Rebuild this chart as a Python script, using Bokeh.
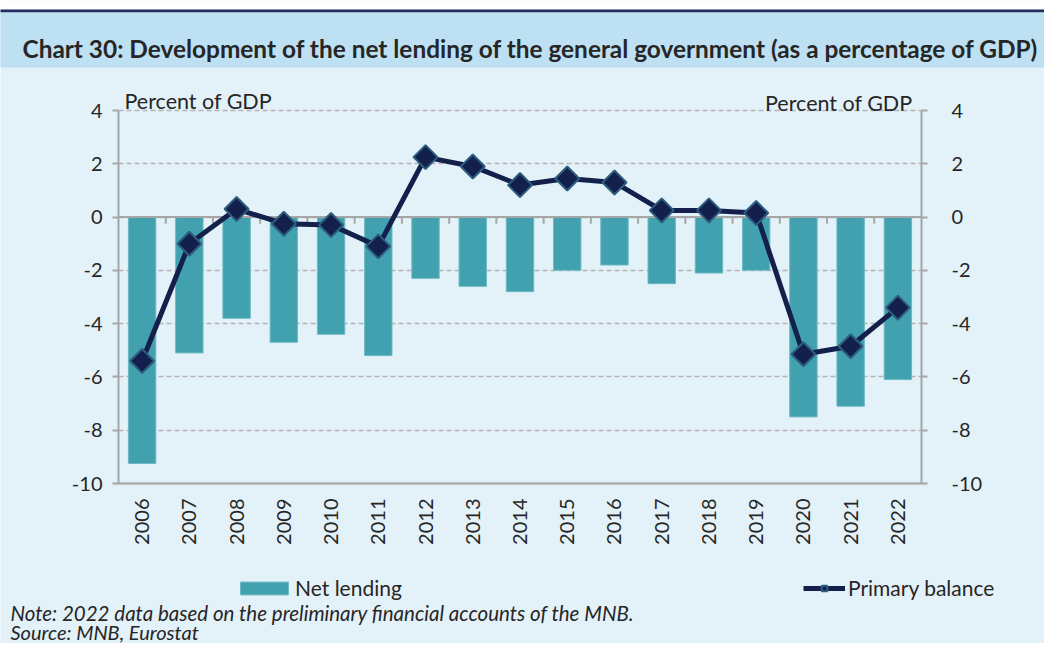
import math
from bokeh.plotting import figure
from bokeh.models import (Range1d, LinearAxis, FixedTicker, Label, BoxAnnotation,
                          Legend, LegendItem, ColumnDataSource, Grid)
from bokeh.embed import file_html
from bokeh.resources import INLINE

years = ["2006", "2007", "2008", "2009", "2010", "2011", "2012", "2013", "2014",
         "2015", "2016", "2017", "2018", "2019", "2020", "2021", "2022"]
net_lending = [-9.25, -5.1, -3.8, -4.7, -4.4, -5.2, -2.3, -2.6, -2.8,
               -2.0, -1.8, -2.5, -2.1, -2.0, -7.5, -7.1, -6.1]
primary_balance = [-5.4, -1.0, 0.3, -0.25, -0.3, -1.1, 2.25, 1.9, 1.2,
                   1.45, 1.3, 0.25, 0.25, 0.15, -5.15, -4.85, -3.4]
y_ticks = [-10, -8, -6, -4, -2, 0, 2, 4]
y_tick_labels = {t: str(t) for t in y_ticks}

TITLE = "Chart 30: Development of the net lending of the general government (as a percentage of GDP)"
NOTE = "Note: 2022 data based on the preliminary financial accounts of the MNB."
SOURCE = "Source: MNB, Eurostat"
UNIT = "Percent of GDP"

BODY = "#E3F1F8"
BAND = "#BDE0F3"
NAVY = "#13204B"
TEAL = "#41A1AE"
GRID = "#B4B4B4"
AXIS = "#A6A6A6"
TXT = "#262626"
FONT = "Lato"

W, H = 1044, 643
FL, FR = 118, 921          # px of the category area (left / right axis)
FT, FB = 110, 483          # px of y=4 and y=-10
n = len(years)
idx = list(range(n))
x_lo, x_hi = -0.5, n - 0.5
y_lo, y_hi = -10, 4

px_x = (FR - FL) / (x_hi - x_lo)
px_y = (FB - FT) / (y_hi - y_lo)
def X(fx):
    return (fx - FL) / px_x + x_lo
def Y(fy):
    return y_hi + (FT - fy) / px_y

p = figure(width=W, height=H, output_backend="svg", toolbar_location=None,
           x_range=Range1d(X(0), X(W)), y_range=Range1d(Y(H), Y(0)),
           min_border=0, min_border_left=0, min_border_right=0,
           min_border_top=0, min_border_bottom=0,
           background_fill_color=BODY, border_fill_color=BODY,
           outline_line_color=None)

# header: white strip, navy rule, light-blue title band
p.add_layout(BoxAnnotation(left=X(-5), right=X(W + 5), top=Y(-5), bottom=Y(9),
                           fill_color="white", fill_alpha=1, line_color=None, level="underlay"))
p.add_layout(BoxAnnotation(left=X(-5), right=X(W + 5), top=Y(9), bottom=Y(12),
                           fill_color="#1F2E5E", fill_alpha=1, line_color=None, level="underlay"))
p.add_layout(BoxAnnotation(left=X(-5), right=X(W + 5), top=Y(12), bottom=Y(67),
                           fill_color=BAND, fill_alpha=1, line_color=None, level="underlay"))

# axes fixed to the chart area
xa = p.xaxis[0]
xa.fixed_location = y_lo
xa.bounds = (x_lo, x_hi)
xa.ticker = FixedTicker(ticks=idx)
xa.major_label_overrides = {i: y for i, y in enumerate(years)}
xa.major_label_orientation = math.pi / 2
xa.major_tick_out = 0
xa.major_tick_in = 0
xa.minor_tick_line_color = None
xa.axis_line_color = AXIS
xa.axis_line_width = 2
xa.major_label_standoff = 15

ya = p.yaxis[0]
ya.fixed_location = x_lo
ya.bounds = (y_lo, y_hi)
ya.ticker = FixedTicker(ticks=y_ticks)
ya.major_label_overrides = y_tick_labels
ya.minor_tick_line_color = None
ya.major_tick_out = 6
ya.major_tick_in = 0
ya.major_tick_line_color = AXIS
ya.major_tick_line_width = 2
ya.axis_line_color = AXIS
ya.axis_line_width = 2
ya.major_label_standoff = 10

ry = LinearAxis(ticker=FixedTicker(ticks=y_ticks), bounds=(y_lo, y_hi), fixed_location=x_hi)
ry.major_label_overrides = y_tick_labels
ry.minor_tick_line_color = None
ry.major_tick_out = 6
ry.major_tick_in = 0
ry.major_tick_line_color = AXIS
ry.major_tick_line_width = 2
ry.axis_line_color = AXIS
ry.axis_line_width = 2
ry.major_label_standoff = 24
p.add_layout(ry, "right")

for ax in [xa, ya, ry]:
    ax.major_label_text_font = FONT
    ax.major_label_text_font_size = "20px"
    ax.major_label_text_color = TXT

p.xgrid.visible = False
yg = p.ygrid[0]
yg.ticker = FixedTicker(ticks=y_ticks)
yg.grid_line_color = GRID
yg.grid_line_dash = "5 3"
yg.grid_line_width = 1.5
if "cross_bounds" in Grid.properties():
    yg.cross_bounds = (x_lo, x_hi)

src = ColumnDataSource(dict(x=idx, nl=net_lending, pb=primary_balance))

bars = p.vbar(x="x", top=0, bottom="nl", width=0.58, source=src,
              fill_color=TEAL, line_color="#6DBAC4", line_width=1)

# zero line with category tick marks
p.segment(x0=[x_lo], x1=[x_hi], y0=[0], y1=[0], line_color=AXIS, line_width=2)
bounds = [i + 0.5 for i in range(n - 1)]
p.segment(x0=bounds, x1=bounds, y0=[0] * len(bounds), y1=[-0.25] * len(bounds),
          line_color=AXIS, line_width=2)

line = p.line(x="x", y="pb", source=src, line_color=NAVY, line_width=5)
marks = p.scatter(x="x", y="pb", source=src, marker="square", angle=math.pi / 4,
                  size=17, fill_color=NAVY, line_color="#2D5E80", line_width=2)

def lab(fx, fy, text, size, align="left", style="normal"):
    p.add_layout(Label(x=X(fx), y=Y(fy), text=text, text_font=FONT, text_font_size=size,
                       text_color=TXT, text_align=align, text_baseline="alphabetic",
                       text_font_style=style))

lab(22, 48, TITLE, "24.4px", style="bold")
lab(124, 100, UNIT, "21.5px")
lab(912, 102, UNIT, "21.5px", align="right")
lab(10, 612, NOTE, "20.5px", style="italic")
lab(10, 631, SOURCE, "20px", style="italic")

def mk_legend(item, left, gw, gh, standoff):
    lg = Legend(items=[item], location=(left, H - 600), orientation="horizontal",
                glyph_width=gw, glyph_height=gh, label_standoff=standoff, padding=0, margin=0,
                spacing=0, border_line_color=None, background_fill_alpha=0,
                label_text_font=FONT, label_text_font_size="21px", label_text_color=TXT)
    p.add_layout(lg, "center")

mk_legend(LegendItem(label="Net lending", renderers=[bars]), 234, 60, 16, 1)
mk_legend(LegendItem(label="Primary balance", renderers=[line, marks]), 803, 42, 14, 3)

open("out.html", "w").write(file_html(p, INLINE))
